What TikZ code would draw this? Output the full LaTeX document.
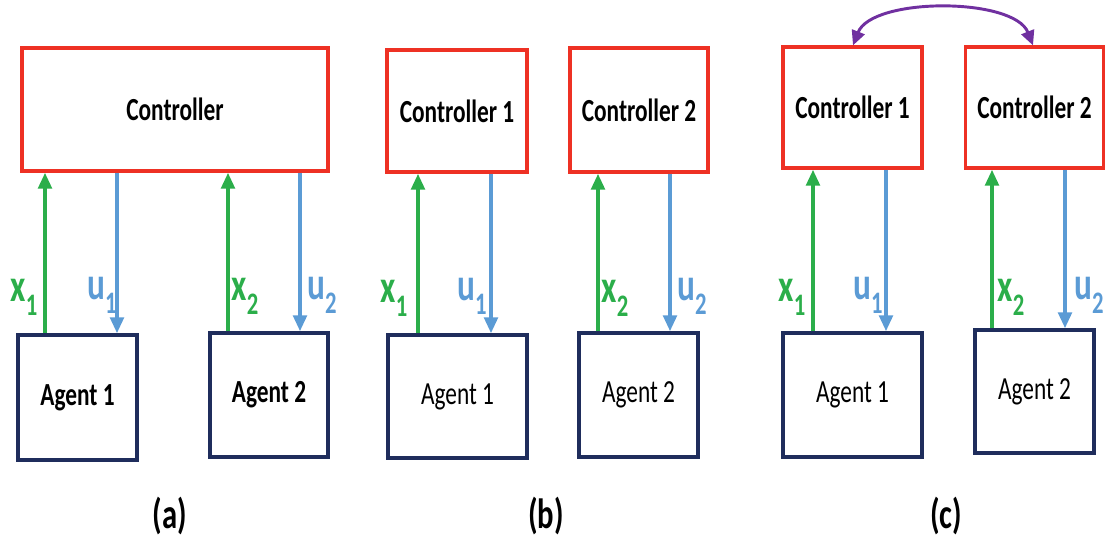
\documentclass[tikz,border=0pt]{standalone}
\usepackage{fontspec}
\setmainfont{Carlito}
\usepackage{graphicx}
\usetikzlibrary{arrows.meta}
\definecolor{vermelho}{HTML}{EE3124}
\definecolor{marinho}{HTML}{1F2D5C}
\definecolor{verde}{HTML}{2BAE4A}
\definecolor{azul}{HTML}{5B9BD5}
\definecolor{roxo}{HTML}{7030A0}
\newcommand{\alto}[1]{\scalebox{1}[1.38]{#1}}
\newcommand{\sinal}[2]{\alto{#1\raisebox{-0.3em}{\fontsize{17}{17}\selectfont #2}}}

\begin{document}
\begin{tikzpicture}[x=0.75pt,y=-0.75pt,
    caixa/.style 2 args={rectangle,fill=white,inner sep=0pt,minimum width=#1*0.75pt,minimum height=#2*0.75pt},
    ctrl/.style={draw=vermelho,line width=2.4pt,font=\fontsize{17.5}{20}\selectfont\bfseries},
    agente/.style={draw=marinho,line width=2.4pt,font=\fontsize{17.5}{20}\selectfont},
    setax/.style={verde,line width=3pt,-{Triangle[length=12pt,width=10pt]}},
    setau/.style={azul,line width=3pt,-{Triangle[length=12pt,width=10pt]}},
    rotx/.style={text=verde,inner sep=0pt,font=\fontsize{25}{27}\selectfont\bfseries},
    rotu/.style={text=azul,inner sep=0pt,font=\fontsize{25}{27}\selectfont\bfseries},
    legenda/.style={inner sep=0pt,font=\fontsize{23}{25}\selectfont\bfseries}]
  \useasboundingbox (0,0) rectangle (1106,546);
  % (a) um controlador central
  \node[caixa={306}{123},ctrl] (ctla) at (175,109.5) {\alto{Controller}};
  \node[caixa={119}{125},agente] (ag1a) at (77.5,397.5) {\alto{\bfseries Agent 1}};
  \node[caixa={118}{124},agente] (ag2a) at (269,395) {\alto{\bfseries Agent 2}};
  \coordinate (x1a) at (45,0);
  \coordinate (u1a) at (117,0);
  \coordinate (x2a) at (228,0);
  \coordinate (u2a) at (300,0);
  \draw[setax] (ag1a.north -| x1a) -- (ctla.south -| x1a);
  \draw[setau] (ctla.south -| u1a) -- (ag1a.north -| u1a);
  \draw[setax] (ag2a.north -| x2a) -- (ctla.south -| x2a);
  \draw[setau] (ctla.south -| u2a) -- (ag2a.north -| u2a);
  \node[rotx] (lx1a) at (24,297) {\sinal{x}{1}};
  \node[rotu] (lu1a) at (102,295) {\sinal{u}{1}};
  \node[rotx] (lx2a) at (245,296) {\sinal{x}{2}};
  \node[rotu] (lu2a) at (322,295) {\sinal{u}{2}};
  \node[legenda] (capa) at (170,516) {\alto{(a)}};
  % (b) controladores separados
  \node[caixa={140}{122},ctrl] (ctl1b) at (457,111) {\alto{Controller 1}};
  \node[caixa={138}{124},ctrl] (ctl2b) at (639,110) {\alto{Controller 2}};
  \node[caixa={139}{123},agente] (ag1b) at (457.5,396.5) {\alto{Agent 1}};
  \node[caixa={119}{124},agente] (ag2b) at (638.5,395) {\alto{Agent 2}};
  \coordinate (x1b) at (418,0);
  \coordinate (u1b) at (491,0);
  \coordinate (x2b) at (598,0);
  \coordinate (u2b) at (670,0);
  \draw[setax] (ag1b.north -| x1b) -- (ctl1b.south -| x1b);
  \draw[setau] (ctl1b.south -| u1b) -- (ag1b.north -| u1b);
  \draw[setax] (ag2b.north -| x2b) -- (ctl2b.south -| x2b);
  \draw[setau] (ctl2b.south -| u2b) -- (ag2b.north -| u2b);
  \node[rotx] (lx1b) at (394,298) {\sinal{x}{1}};
  \node[rotu] (lu1b) at (472,296) {\sinal{u}{1}};
  \node[rotx] (lx2b) at (615,298) {\sinal{x}{2}};
  \node[rotu] (lu2b) at (692,296) {\sinal{u}{2}};
  \node[legenda] (capb) at (546,516) {\alto{(b)}};
  % (c) controladores que se comunicam
  \node[caixa={139}{121},ctrl] (ctl1c) at (852.5,107.5) {\alto{Controller 1}};
  \node[caixa={138}{121},ctrl] (ctl2c) at (1034.5,107.5) {\alto{Controller 2}};
  \node[caixa={139}{124},agente] (ag1c) at (852.5,395) {\alto{Agent 1}};
  \node[caixa={119}{123},agente] (ag2c) at (1034.5,391.5) {\alto{Agent 2}};
  \coordinate (x1c) at (813,0);
  \coordinate (u1c) at (886,0);
  \coordinate (x2c) at (992,0);
  \coordinate (u2c) at (1065,0);
  \coordinate (a1c) at (853,0);
  \coordinate (a2c) at (1033,0);
  \draw[setax] (ag1c.north -| x1c) -- (ctl1c.south -| x1c);
  \draw[setau] (ctl1c.south -| u1c) -- (ag1c.north -| u1c);
  \draw[setax] (ag2c.north -| x2c) -- (ctl2c.south -| x2c);
  \draw[setau] (ctl2c.south -| u2c) -- (ag2c.north -| u2c);
  \draw[roxo,line width=2.2pt,{Triangle[length=11pt,width=10pt]}-{Triangle[length=11pt,width=10pt]}]
    (ctl1c.north -| a1c) .. controls (872,-3) and (1014,-3) .. (ctl2c.north -| a2c);
  \node[rotx] (lx1c) at (792,297) {\sinal{x}{1}};
  \node[rotu] (lu1c) at (868,295) {\sinal{u}{1}};
  \node[rotx] (lx2c) at (1011,297) {\sinal{x}{2}};
  \node[rotu] (lu2c) at (1089,295) {\sinal{u}{2}};
  \node[legenda] (capc) at (946,516) {\alto{(c)}};
\end{tikzpicture}
\end{document}
